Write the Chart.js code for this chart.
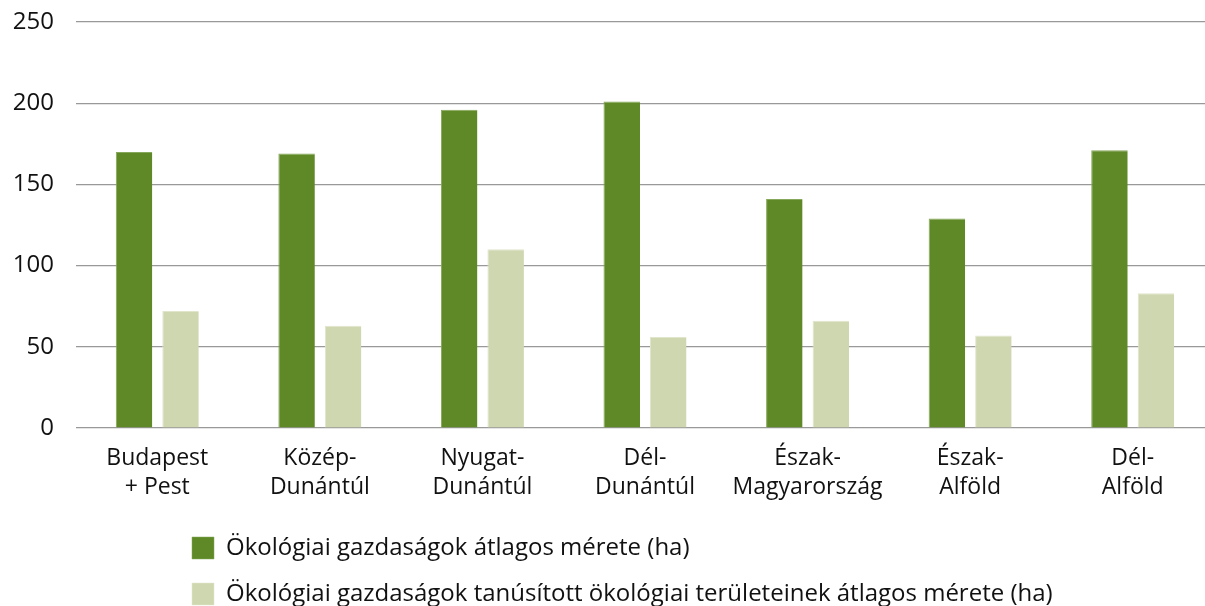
<!DOCTYPE html>
<html>
<head>
<meta charset="utf-8">
<script src="https://cdn.jsdelivr.net/npm/chart.js@4/dist/chart.umd.min.js"></script>
<style>
  html, body { margin: 0; padding: 0; background: #fff; overflow: hidden; }
  #wrap { position: relative; width: 1215px; height: 606px; }
</style>
</head>
<body>
<div id="wrap"><canvas id="chart"></canvas></div>
<script>
// ---------- Data ----------
const regions = [
  ["Budapest", "+ Pest"],
  ["Közép-", "Dunántúl"],
  ["Nyugat-", "Dunántúl"],
  ["Dél-", "Dunántúl"],
  ["Észak-", "Magyarország"],
  ["Észak-", "Alföld"],
  ["Dél-", "Alföld"]
];
const avgFarmSize = [170, 169, 196, 201, 141, 129, 171];      // ha
const avgCertifiedSize = [72, 63, 110, 56, 66, 57, 83];       // ha
const yTicks = [0, 50, 100, 150, 200, 250];

const seriesNames = [
  "Ökológiai gazdaságok átlagos mérete (ha)",
  "Ökológiai gazdaságok tanúsított ökológiai területeinek átlagos mérete (ha)"
];

// ---------- Look ----------
const FONT = "'Open Sans', 'Liberation Sans', sans-serif";
const TEXT = "#111";
const GRID = "#999";

// legend sits left-aligned under the plot, not at the canvas edge
const legendPos = {
  id: "legendPos",
  afterLayout(chart) {
    const lg = chart.legend;
    if (!lg) return;
    lg.left = 170;
    lg.top = 514;
  }
};

const ctx = document.getElementById("chart").getContext("2d");
new Chart(ctx, {
  type: "bar",
  data: {
    labels: regions,
    datasets: [
      {
        label: seriesNames[0],
        data: avgFarmSize,
        backgroundColor: "#5f8927",
        borderColor: "#86a85a",
        borderWidth: { top: 1, left: 1, right: 0, bottom: 0 },
        borderSkipped: false
      },
      {
        label: seriesNames[1],
        data: avgCertifiedSize,
        backgroundColor: "#cfd7b1",
        borderColor: "#e0e6cb",
        borderWidth: { top: 1, left: 1, right: 0, bottom: 0 },
        borderSkipped: false
      }
    ]
  },
  options: {
    responsive: true,
    maintainAspectRatio: false,
    animation: false,
    layout: { padding: { top: 22, right: 1, left: 0, bottom: 0 } },
    datasets: {
      bar: { categoryPercentage: 0.572, barPercentage: 0.785 }
    },
    plugins: {
      tooltip: { enabled: false },
      legend: {
        position: "bottom",
        align: "start",
        labels: {
          font: { family: FONT, size: 24, weight: 500 },
          color: TEXT,
          boxWidth: 22,
          boxHeight: 22,
          padding: 22
        }
      }
    },
    scales: {
      x: {
        grid: { display: false, drawTicks: false },
        border: { display: false },
        ticks: {
          color: TEXT,
          font: { family: FONT, size: 23, weight: 500, lineHeight: 1.25 },
          padding: 16,
          maxRotation: 0,
          autoSkip: false
        },
        afterFit(scale) { scale.height = 76; }
      },
      y: {
        min: 0,
        max: 250,
        afterBuildTicks(scale) { scale.ticks = yTicks.map(v => ({ value: v })); },
        grid: { color: GRID, lineWidth: 1.2, drawTicks: false },
        border: { display: false },
        ticks: {
          color: TEXT,
          font: { family: FONT, size: 24, weight: 500 },
          padding: 22
        },
        afterFit(scale) {
          scale.width = 76;
          scale.paddingTop = 0;
          scale.paddingBottom = 0;
        }
      }
    }
  },
  plugins: [legendPos]
});
</script>
</body>
</html>
